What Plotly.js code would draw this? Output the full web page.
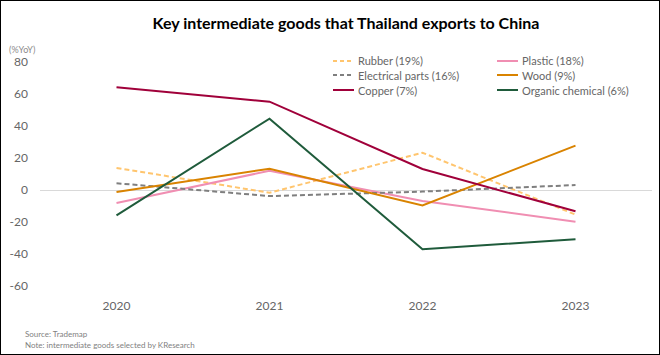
<!DOCTYPE html>
<html>
<head>
<meta charset="utf-8">
<script src="https://cdn.plot.ly/plotly-3.0.1.min.js"></script>
<style>
  html, body { margin: 0; padding: 0; background: #fff; }
  #chart { width: 658px; height: 353px; border: 1px solid #000; }
</style>
</head>
<body>
<div id="chart"></div>
<script>
// ---- Data ----
const years = ['2020', '2021', '2022', '2023'];
const seriesNames = ['Rubber (19%)', 'Plastic (18%)', 'Electrical parts (16%)', 'Wood (9%)', 'Copper (7%)', 'Organic chemical (6%)'];
const rubber     = [13.8, -1.7, 23.3, -15.4];
const plastic    = [-8.1, 12.0, -6.9, -19.8];
const electrical = [4.2, -3.8, -1.0, 3.1];
const wood       = [-1.3, 13.3, -9.6, 27.7];
const copper     = [64.2, 55.2, 13.1, -13.3];
const organic    = [-15.8, 44.6, -37.0, -30.8];
const yTicks = [-60, -40, -20, 0, 20, 40, 60, 80];

// ---- Styles ----
const seriesValues = [rubber, plastic, electrical, wood, copper, organic];
const colors = ['#FFC56E', '#F08EB2', '#7F7F7F', '#D98300', '#A0003A', '#1F5B3B'];
const dashes = ['5px,3px', 'solid', '5px,3px', 'solid', 'solid', 'solid'];
const traces = seriesNames.map((n, i) => ({
  type: 'scatter', mode: 'lines', name: n,
  x: years, y: seriesValues[i],
  line: { color: colors[i], width: 2, dash: dashes[i] },
  hoverinfo: 'x+y+name'
}));

// plot area geometry (internal px)
const W = 658, H = 353;
const M = { l: 39, r: 7, t: 61, b: 68 };
const pw = W - M.l - M.r, ph = H - M.t - M.b;
const px2x = p => (p - M.l) / pw;
const py2y = p => (H - M.b - p) / ph;

const txtFont = 'Lato, sans-serif';
const tickColor = '#666666';

// manual legend (2 columns x 3 rows)
const legCols = [333, 497];
const legRows = [61, 75, 90];
const shapes = [], annotations = [];
seriesNames.forEach((n, i) => {
  const col = i % 2, row = Math.floor(i / 2);
  const x0 = legCols[col] - 1, y0 = legRows[row] - 1;
  shapes.push({
    type: 'line', xref: 'paper', yref: 'paper',
    x0: px2x(x0), x1: px2x(x0 + 21), y0: py2y(y0), y1: py2y(y0),
    line: { color: colors[i], width: 2, dash: dashes[i] === 'solid' ? 'solid' : '4px,3px' }
  });
  annotations.push({
    xref: 'paper', yref: 'paper', x: px2x(x0 + 23), y: py2y(y0),
    xanchor: 'left', yanchor: 'middle', showarrow: false,
    text: n, font: { family: txtFont, size: 11, color: tickColor }
  });
});
annotations.push({
  xref: 'paper', yref: 'paper', x: px2x(6), y: py2y(49),
  xanchor: 'left', yanchor: 'middle', showarrow: false,
  text: '(%YoY)', font: { family: txtFont, size: 9, color: '#8C8C8C' }
});
annotations.push({
  xref: 'paper', yref: 'paper', x: px2x(22), y: py2y(333),
  xanchor: 'left', yanchor: 'middle', showarrow: false, align: 'left',
  text: 'Source: Trademap', font: { family: txtFont, size: 8, color: '#7F7F7F' }
});
annotations.push({
  xref: 'paper', yref: 'paper', x: px2x(22), y: py2y(344),
  xanchor: 'left', yanchor: 'middle', showarrow: false, align: 'left',
  text: 'Note: intermediate goods selected by KResearch', font: { family: txtFont, size: 8, color: '#7F7F7F' }
});

const layout = {
  width: W, height: H,
  margin: M,
  paper_bgcolor: '#fff', plot_bgcolor: '#fff',
  showlegend: false,
  title: {
    text: '<b>Key intermediate goods that Thailand exports to China</b>',
    x: 0.5, xref: 'paper', xanchor: 'center', y: 1 - 22 / H, yanchor: 'middle',
    font: { family: txtFont, size: 16, color: '#000' }
  },
  xaxis: {
    type: 'category', range: [-0.5, 3.5],
    showgrid: false, zeroline: false, showline: false, ticks: '',
    tickfont: { family: txtFont, size: 12, color: tickColor },
    ticklabelstandoff: 11, fixedrange: true
  },
  yaxis: {
    range: [-60, 80], tickvals: yTicks, ticktext: yTicks.map(String),
    showgrid: false, zeroline: true, zerolinecolor: '#D9D9D9', zerolinewidth: 1,
    showline: false, ticks: '',
    tickfont: { family: txtFont, size: 12, color: tickColor },
    ticklabelstandoff: 11, fixedrange: true
  },
  shapes: shapes,
  annotations: annotations
};

Plotly.newPlot('chart', traces, layout, { displayModeBar: false, staticPlot: true });
</script>
</body>
</html>
